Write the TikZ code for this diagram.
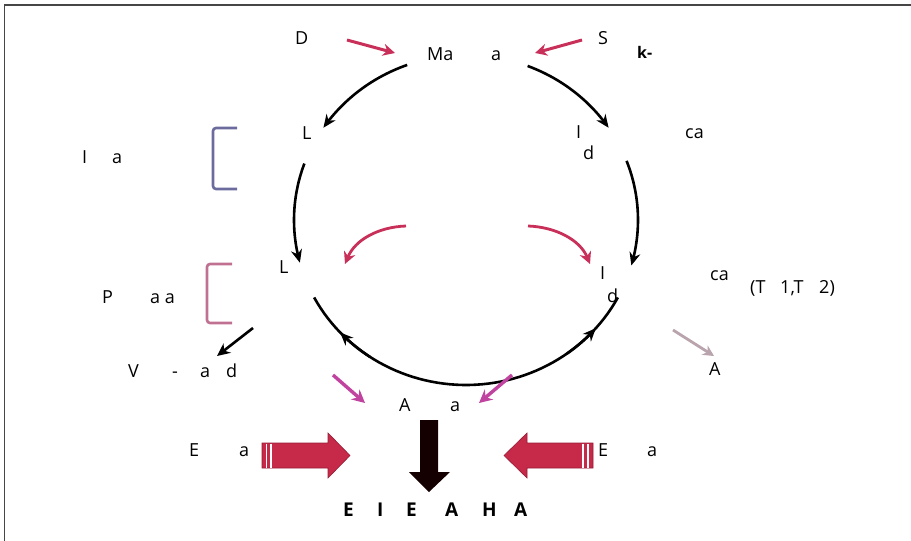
\documentclass[tikz,border=0pt]{standalone}
\usepackage{fontspec}
\setmainfont{Open Sans}
\usetikzlibrary{arrows.meta}
\definecolor{cycred}{RGB}{200,48,90}
\definecolor{blockred}{RGB}{198,42,72}
\definecolor{blockdark}{RGB}{150,28,55}
\definecolor{magarr}{RGB}{192,67,160}
\definecolor{grayarr}{RGB}{185,163,173}
\definecolor{brblue}{RGB}{107,107,158}
\definecolor{brpink}{RGB}{192,112,144}
\definecolor{framegray}{RGB}{70,70,70}
\tikzset{
  lbl/.style={anchor=base west, inner sep=0pt, font=\fontsize{18}{20}\selectfont},
  blbl/.style={anchor=base west, inner sep=0pt, font=\fontsize{19}{20}\selectfont\bfseries},
  cyc/.style={line width=2.6pt, black, -{Stealth[length=13pt,width=11pt]}},
  cycplain/.style={line width=2.6pt, black},
  redarr/.style={line width=3pt, cycred, -{Stealth[length=12pt,width=12pt]}},
  magarrow/.style={line width=3.4pt, magarr, -{Stealth[length=13pt,width=13pt]}},
  grayarrow/.style={line width=2.8pt, grayarr, -{Stealth[length=11pt,width=11pt]}},
  blackarrow/.style={line width=2.6pt, black, -{Stealth[length=13pt,width=12pt]}},
  bracket/.style={line width=2.6pt, rounded corners=3pt},
  block/.style={fill=blockred, draw=blockdark, line width=0.6pt},
  stripe/.style={white, line width=1.3pt}
}
\begin{document}
\begin{tikzpicture}[x=1pt,y=-1pt]
\useasboundingbox (0,0) rectangle (911,541);
% frame
\draw[framegray, line width=1.6pt] (4.5,541) -- (4.5,5) -- (911,5);

% labels
\node[lbl] (tD) at (295,44) {D};
\node[lbl] (tMa) at (427,60) {Ma};
\node[lbl] (tMa2) at (491,60) {a};
\node[lbl] (tS) at (598,44) {S};
\node[blbl] (tk) at (637,58) {\fontsize{16}{17}\selectfont k-};
\node[lbl] (tL1) at (302,139) {L};
\node[lbl] (tIa1) at (82,163) {I};
\node[lbl] (tIa2) at (112,163) {a};
\node[lbl] (tI1) at (576,138) {I};
\node[lbl] (td1) at (583,159) {d};
\node[lbl] (tca1) at (685,138) {ca};
\node[lbl] (tL2) at (279,273) {L};
\node[lbl] (tP) at (102,303) {P};
\node[lbl] (tPaa) at (150,303) {a a};
\node[lbl] (tV) at (128,377) {V};
\node[lbl] (tVd) at (172,377) {-};
\node[lbl] (tVa) at (200,377) {a};
\node[lbl] (tVdd) at (226,377) {d};
\node[lbl] (tI2) at (600,279) {I};
\node[lbl] (td2) at (607,302) {d};
\node[lbl] (tca2) at (710,280) {ca};
\node[lbl] (tT1) at (750,293) {(T};
\node[lbl] (tT2) at (780,293) {1,T};
\node[lbl] (tT3) at (819,293) {2)};
\node[lbl] (tA1) at (709,375) {A};
\node[lbl] (tAa1) at (399,411) {A};
\node[lbl] (tAa2) at (450,411) {a};
\node[lbl] (tE1) at (189,456) {E};
\node[lbl] (tE1a) at (239,456) {a};
\node[lbl] (tE2) at (598,456) {E};
\node[lbl] (tE2a) at (647,456) {a};
\node[blbl] (b1) at (343,516) {E};
\node[blbl] (b2) at (377,516) {I};
\node[blbl] (b3) at (406,516) {E};
\node[blbl] (b4) at (445,516) {A};
\node[blbl] (b5) at (482,516) {H};
\node[blbl] (b6) at (514,516) {A};

% brackets
\draw[bracket, brblue] (237,128) -- (213,128) -- (213,189) -- (237,189);
\draw[bracket, brpink] (232,264) -- (207,264) -- (207,323) -- (232,323);

% cycle arcs
\draw[cyc] plot[domain=250:214, samples=30] ({466+172*cos(\x)},{220+165*sin(\x)});
\draw[cyc] plot[domain=291:326, samples=30] ({466+172*cos(\x)},{220+165*sin(\x)});
\draw[cyc] plot[domain=200:165, samples=30] ({466+172*cos(\x)},{220+165*sin(\x)});
\draw[cyc] plot[domain=-21:16, samples=30] ({466+172*cos(\x)},{220+165*sin(\x)});
\draw[cycplain] plot[domain=152:28, samples=60] ({466+172*cos(\x)},{220+165*sin(\x)});
\draw[cyc] plot[domain=124:137, samples=8] ({466+172*cos(\x)},{220+165*sin(\x)});
\draw[cyc] plot[domain=54:41, samples=8] ({466+172*cos(\x)},{220+165*sin(\x)});

% red arrows top
\coordinate (dS) at (347,40); \coordinate (dE) at (395,53);
\draw[redarr] (dS) -- (dE);
\coordinate (sS) at (582,40); \coordinate (sE) at (535,53);
\draw[redarr] (sS) -- (sE);

% inner curved red arrows
\coordinate (il1) at (406,226); \coordinate (il2) at (345,264);
\draw[redarr, line width=2.8pt] (il1) .. controls (378,227) and (355,240) .. (il2);
\coordinate (ir1) at (528,226); \coordinate (ir2) at (590,264);
\draw[redarr, line width=2.8pt] (ir1) .. controls (556,227) and (580,240) .. (ir2);

% small black arrow left
\coordinate (bk1) at (253,328); \coordinate (bk2) at (217,356);
\draw[blackarrow] (bk1) -- (bk2);

% gray arrow right
\coordinate (g1) at (673,330); \coordinate (g2) at (714,356);
\draw[grayarrow] (g1) -- (g2);

% magenta arrows
\coordinate (m1) at (333,375); \coordinate (m2) at (365,403);
\draw[magarrow] (m1) -- (m2);
\coordinate (m3) at (512,375); \coordinate (m4) at (479,403);
\draw[magarrow] (m3) -- (m4);

% big black arrow
\fill[black!92!red] (420,420) -- (438,420) -- (438,472) -- (450,472) -- (429,492) -- (409,472) -- (420,472) -- cycle;

% block red arrows
\filldraw[block] (262,443) -- (328,443) -- (328,433) -- (350,455.5) -- (328,478) -- (328,468) -- (262,468) -- cycle;
\draw[stripe] (266.5,443.5) -- (266.5,467.5);
\draw[stripe] (271,443.5) -- (271,467.5);
\filldraw[block] (593,443) -- (527,443) -- (527,433) -- (504,455.5) -- (527,478) -- (527,468) -- (593,468) -- cycle;
\draw[stripe] (583,443.5) -- (583,467.5);
\draw[stripe] (588,443.5) -- (588,467.5);
\end{tikzpicture}
\end{document}
